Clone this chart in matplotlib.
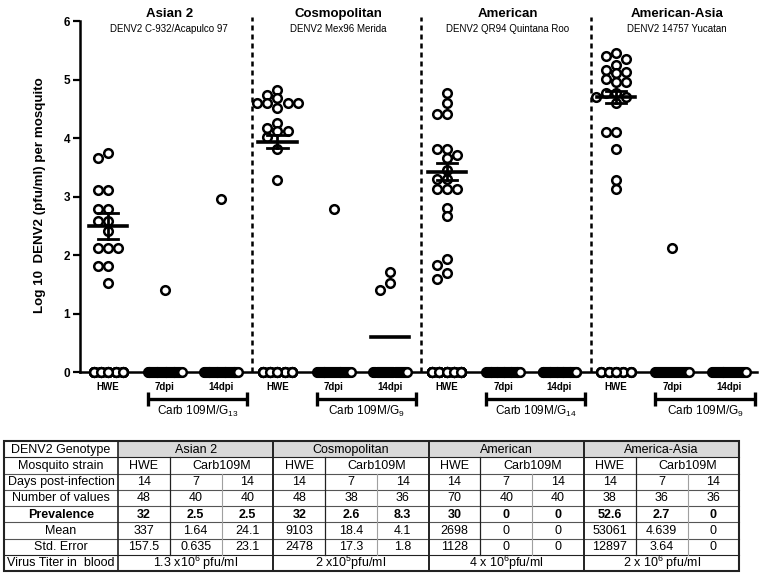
import numpy as np
import matplotlib
matplotlib.use("Agg")
import matplotlib.pyplot as plt
from matplotlib.patches import Rectangle

plt.rcParams['font.family'] = ['Liberation Sans', 'DejaVu Sans']
plt.rcParams['mathtext.fontset'] = 'custom'
plt.rcParams['mathtext.rm'] = 'Liberation Sans'
plt.rcParams['mathtext.it'] = 'Liberation Sans:italic'
plt.rcParams['mathtext.bf'] = 'Liberation Sans:bold'

# ---------------- data ----------------
genotypes = ["Asian 2", "Cosmopolitan", "American", "American-Asia"]
strains = ["DENV2 C-932/Acapulco 97", "DENV2 Mex96 Merida",
           "DENV2 QR94 Quintana Roo", "DENV2 14757 Yucatan"]
conditions = ["HWE", "7dpi", "14dpi"]
carb_subscripts = ["13", "9", "14", "9"]

asian2_hwe = [3.75, 3.66, 3.12, 3.12, 2.80, 2.80, 2.59, 2.59, 2.42,
              2.12, 2.12, 2.12, 1.82, 1.82, 1.52]
asian2_7dpi = [1.41]
asian2_14dpi = [2.96]
cosmo_hwe = [4.83, 4.74, 4.69, 4.60, 4.60, 4.60, 4.60, 4.51, 4.26,
             4.18, 4.12, 4.12, 4.03, 3.82, 3.29]
cosmo_7dpi = [2.80]
cosmo_14dpi = [1.72, 1.52, 1.41]
american_hwe = [4.77, 4.60, 4.41, 4.41, 3.81, 3.81, 3.71, 3.66, 3.45,
                3.30, 3.30, 3.13, 3.13, 3.13, 2.81, 2.67, 1.93, 1.83,
                1.69, 1.59]
american_7dpi = []
american_14dpi = []
amasia_hwe = [5.45, 5.40, 5.35, 5.25, 5.17, 5.14, 5.12, 5.02, 4.97,
              4.97, 4.78, 4.78, 4.71, 4.71, 4.60, 4.11, 4.11, 3.81,
              3.29, 3.13]
amasia_7dpi = [2.12]
amasia_14dpi = []

positives = [asian2_hwe, asian2_7dpi, asian2_14dpi,
             cosmo_hwe, cosmo_7dpi, cosmo_14dpi,
             american_hwe, american_7dpi, american_14dpi,
             amasia_hwe, amasia_7dpi, amasia_14dpi]
n_values = [48, 40, 40, 48, 38, 36, 70, 40, 40, 38, 36, 36]

hwe_mean = [2.50, 3.94, 3.43, 4.71]
hwe_sem = [0.22, 0.11, 0.145, 0.105]
cosmo_14dpi_mean = 0.60

# table data
table_genotypes = ["Asian 2", "Cosmopolitan", "American", "America-Asia"]
row_headers = ["DENV2 Genotype", "Mosquito strain", "Days post-infection",
               "Number of values", "Prevalence", "Mean", "Std. Error",
               "Virus Titer in  blood"]
days_post = ["14", "7", "14", "14", "7", "14", "14", "7", "14", "14", "7", "14"]
number_values = ["48", "40", "40", "48", "38", "36", "70", "40", "40", "38", "36", "36"]
prevalence = ["32", "2.5", "2.5", "32", "2.6", "8.3", "30", "0", "0", "52.6", "2.7", "0"]
mean_titer = ["337", "1.64", "24.1", "9103", "18.4", "4.1", "2698", "0", "0",
              "53061", "4.639", "0"]
std_error = ["157.5", "0.635", "23.1", "2478", "17.3", "1.8", "1128", "0", "0",
             "12897", "3.64", "0"]
blood_titer = [r"1.3 x10$^{6}$ pfu/ml", r"2 x10$^{5}$pfu/ml",
               r"4 x 10$^{6}$pfu/ml", r"2 x 10$^{6}$ pfu/ml"]

# ---------------- figure ----------------
W, H = 763, 577
fig = plt.figure(figsize=(W / 100, H / 100), dpi=100)


def fx(px):
    return px / W


def fy(py):
    return 1 - py / H


ax = fig.add_axes([fx(80), fy(372.3), fx(757) - fx(80), fy(21.3) - fy(372.3)])
ax.set_xlim(-0.5, 11.5)
ax.set_ylim(0, 6)
for s in ["top", "right"]:
    ax.spines[s].set_visible(False)
ax.spines["left"].set_linewidth(1.8)
ax.spines["bottom"].set_linewidth(1.8)
ax.set_yticks(range(7))
ax.tick_params(axis="y", direction="out", length=5, width=1.6, labelsize=8.5, pad=2)
for lab in ax.get_yticklabels():
    lab.set_fontweight("bold")
ax.set_xticks(range(12))
ax.set_xticklabels(conditions * 4, fontsize=7, fontweight="bold")
ax.tick_params(axis="x", length=0, pad=7)

XPX = 677 / 12.0
YPX = 351.0 / 6.0


def swarm_offsets(values, step=0.18, min_px=7.5):
    placed = []
    offs = []
    cands = [0.0]
    for i in range(1, 6):
        cands += [-i * step, i * step]
    for v in values:
        best = None
        bestd = -1
        chosen = None
        for c in cands:
            d = min([np.hypot((c - po) * XPX, (v - pv) * YPX) for po, pv in placed],
                    default=1e9)
            if d >= min_px:
                chosen = c
                break
            if d > bestd:
                bestd, best = d, c
        if chosen is None:
            chosen = best
        placed.append((chosen, v))
        offs.append(chosen)
    return offs


mk = dict(marker="o", linestyle="none", mfc="white", mec="black",
          ms=6.2, mew=1.8, clip_on=False, zorder=3)

for i, (vals, n) in enumerate(zip(positives, n_values)):
    nz = n - len(vals)
    if i % 3 == 0:
        zoff = np.tile(np.linspace(-0.26, 0.26, 5), nz // 5 + 1)[:nz]
    else:
        zoff = np.linspace(-0.3, 0.3, nz)
    ax.plot(i + zoff, np.zeros(nz), **mk)
    if vals:
        offs = swarm_offsets(vals)
        ax.plot(i + np.array(offs), vals, **mk)

# mean +/- SEM for HWE
for g in range(4):
    c = 3 * g
    m, s = hwe_mean[g], hwe_sem[g]
    ax.plot([c - 0.34, c + 0.34], [m, m], color="black", lw=2.6, zorder=4)
    ax.plot([c, c], [m - s, m + s], color="black", lw=2.0, zorder=4)
    for yy in (m - s, m + s):
        ax.plot([c - 0.18, c + 0.18], [yy, yy], color="black", lw=2.0, zorder=4)

ax.plot([5 - 0.34, 5 + 0.34], [cosmo_14dpi_mean] * 2, color="black", lw=2.6, zorder=4)

# dashed separators
for g in range(1, 4):
    xs = 3 * g - 0.45
    ax.plot([xs, xs], [0, 6.08], color="black", lw=1.8,
            linestyle=(0, (2.0, 1.6)), clip_on=False, zorder=2)

# titles
for g in range(4):
    cx = 3 * g + 1 + 0.08
    ax.text(cx, 6.12, genotypes[g], ha="center", va="center",
            fontsize=9.5, fontweight="bold", clip_on=False)
    ax.text(cx, 5.86, strains[g], ha="center", va="center",
            fontsize=7, clip_on=False)

# brackets
for g in range(4):
    x0, x1 = 3 * g + 0.7, 3 * g + 2.46
    yb = -0.456
    kw = dict(color="black", lw=2.4, clip_on=False, solid_capstyle="butt")
    ax.plot([x0, x1], [yb, yb], **kw)
    ax.plot([x0, x0], [yb - 0.12, yb + 0.12], **kw)
    ax.plot([x1, x1], [yb - 0.12, yb + 0.12], **kw)
    ax.text((x0 + x1) / 2, -0.67, "Carb 109M/G$_{%s}$" % carb_subscripts[g],
            ha="center", va="center", fontsize=8.5, clip_on=False)

fig.text(fx(40), fy(195), "Log 10  DENV2 (pfu/ml) per mosquito", rotation=90,
         ha="center", va="center", fontsize=9.6, fontweight="bold")

# ---------------- table ----------------
tax = fig.add_axes([0, 0, 1, 1])
tax.set_xlim(0, W)
tax.set_ylim(H, 0)
tax.axis("off")

top = 441.0
rh = 16.25
left = 4.0
c0 = 118.0
right = 739.3
cw = (right - c0) / 12.0
col_edges = [c0 + k * cw for k in range(13)]
dark = "#222222"
light = "#a0a0a0"
mid = "#555555"
fs = 9


def ry(r):
    return top + r * rh


def put(x, r, s, bold=False):
    tax.text(x, ry(r) + rh / 2 + 0.5, s, ha="center", va="center",
             fontsize=fs, fontweight="bold" if bold else "normal")


# gray header fill
tax.add_patch(Rectangle((c0, ry(0)), right - c0, rh, facecolor="#d9d9d9",
                        edgecolor="none", zorder=0))

for r, h in enumerate(row_headers):
    put((left + c0) / 2, r, h, bold=(r == 4))

for g in range(4):
    a = col_edges[3 * g]
    b = col_edges[3 * g + 3]
    put((a + b) / 2, 0, table_genotypes[g])
    put((col_edges[3 * g] + col_edges[3 * g + 1]) / 2, 1, "HWE")
    put((col_edges[3 * g + 1] + b) / 2, 1, "Carb109M")
    put((a + b) / 2, 7, blood_titer[g])

for k in range(12):
    cx = (col_edges[k] + col_edges[k + 1]) / 2
    put(cx, 2, days_post[k])
    put(cx, 3, number_values[k])
    put(cx, 4, prevalence[k], bold=True)
    put(cx, 5, mean_titer[k])
    put(cx, 6, std_error[k])

# horizontal lines
for r in range(1, 8):
    col = dark if r in (1, 7) else mid
    tax.plot([left, right], [ry(r), ry(r)], color=col, lw=0.8)
# vertical lines
for g in range(4):
    xh = col_edges[3 * g + 1]
    tax.plot([xh, xh], [ry(1), ry(7)], color=dark, lw=0.9)
    x7 = col_edges[3 * g + 2]
    tax.plot([x7, x7], [ry(2), ry(7)], color=light, lw=0.8)
for g in range(1, 4):
    xg = col_edges[3 * g]
    tax.plot([xg, xg], [ry(0), ry(8)], color=dark, lw=1.4)
tax.plot([c0, c0], [ry(0), ry(8)], color=dark, lw=1.2)
tax.add_patch(Rectangle((left, ry(0)), right - left, 8 * rh, facecolor="none",
                        edgecolor=dark, lw=1.5, zorder=5))

fig.savefig("out.png", dpi=100)
